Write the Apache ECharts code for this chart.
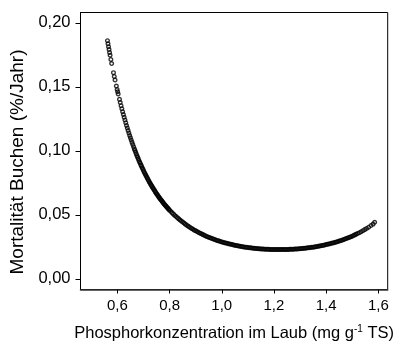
<!DOCTYPE html>
<html>
<head>
<meta charset="utf-8">
<script src="https://cdn.jsdelivr.net/npm/echarts@6/dist/echarts.min.js"></script>
<style>
html, body { margin: 0; padding: 0; background: #fff; }
#main { width: 397px; height: 347px; }
</style>
</head>
<body>
<div id="main"></div>
<script>
// Phosphorkonzentration im Laub (mg g-1 TS)
var phosphor = [
  0.562, 0.564, 0.566, 0.568, 0.570, 0.572, 0.575, 0.578,
  0.585, 0.588, 0.591, 0.596, 0.599, 0.601, 0.603,
  0.608, 0.611, 0.614, 0.617, 0.620, 0.623, 0.626, 0.629, 0.632, 0.635,
  0.638, 0.641, 0.644, 0.647, 0.650, 0.653, 0.656, 0.659, 0.662, 0.665,
  0.670, 0.675, 0.680, 0.685, 0.690, 0.695, 0.700, 0.705, 0.710, 0.715,
  0.720, 0.725, 0.730, 0.735, 0.740, 0.745, 0.750, 0.755, 0.760, 0.765,
  0.770, 0.775, 0.780, 0.785, 0.790, 0.795, 0.800, 0.805, 0.810, 0.815,
  0.820, 0.825, 0.830, 0.835, 0.840, 0.845, 0.850, 0.855, 0.860, 0.865,
  0.870, 0.875, 0.880, 0.885, 0.890, 0.895, 0.900, 0.905, 0.910, 0.915,
  0.920, 0.925, 0.930, 0.935, 0.940, 0.945, 0.950, 0.955, 0.960, 0.965,
  0.970, 0.975, 0.980, 0.985, 0.990, 0.995, 1.000, 1.005, 1.010, 1.015,
  1.020, 1.025, 1.030, 1.035, 1.040, 1.045, 1.050, 1.055, 1.060, 1.065,
  1.070, 1.075, 1.080, 1.085, 1.090, 1.095, 1.100, 1.105, 1.110, 1.115,
  1.120, 1.125, 1.130, 1.135, 1.140, 1.145, 1.150, 1.155, 1.160, 1.165,
  1.170, 1.175, 1.180, 1.185, 1.190, 1.195, 1.200, 1.205, 1.210, 1.215,
  1.220, 1.225, 1.230, 1.235, 1.240, 1.245, 1.250, 1.255, 1.260, 1.265,
  1.270, 1.275, 1.280, 1.285, 1.290, 1.295, 1.300, 1.305, 1.310, 1.315,
  1.320, 1.325, 1.330, 1.335, 1.340, 1.345, 1.350, 1.355, 1.360, 1.365,
  1.370, 1.375, 1.380, 1.385, 1.390, 1.395, 1.400, 1.405, 1.410, 1.415,
  1.420, 1.425, 1.430, 1.435, 1.440, 1.445, 1.450, 1.455, 1.460, 1.465,
  1.470, 1.475, 1.480, 1.485, 1.490, 1.495, 1.500, 1.505, 1.510, 1.515,
  1.520, 1.527, 1.534, 1.541, 1.548, 1.555, 1.563, 1.572, 1.580, 1.586,
  // dichter Bereich am steilen Ast
  0.6675, 0.6725, 0.6775, 0.6825, 0.6875, 0.6925, 0.6975, 0.7025, 0.7075,
  0.7125, 0.7175, 0.7225, 0.7275, 0.7325, 0.7375, 0.7425, 0.7475, 0.7525,
  0.7575, 0.7625, 0.7675, 0.7725, 0.7775, 0.7825, 0.7875, 0.7925, 0.7975
];
// Mortalität Buchen (%/Jahr)
var mortalitaet = [
  0.1861, 0.1837, 0.1814, 0.1791, 0.1769, 0.1747, 0.1714, 0.1682,
  0.1611, 0.1581, 0.1553, 0.1506, 0.1479, 0.1462, 0.1444,
  0.1402, 0.1377, 0.1353, 0.1329, 0.1306, 0.1284, 0.1262, 0.1240, 0.1219, 0.1198,
  0.1178, 0.1158, 0.1139, 0.1120, 0.1102, 0.1084, 0.1066, 0.1049, 0.1032, 0.1015,
  0.0988, 0.0962, 0.0938, 0.0913, 0.0890, 0.0868, 0.0846, 0.0825, 0.0805, 0.0785,
  0.0766, 0.0748, 0.0730, 0.0713, 0.0697, 0.0681, 0.0665, 0.0650, 0.0636, 0.0622,
  0.0609, 0.0596, 0.0583, 0.0571, 0.0559, 0.0547, 0.0536, 0.0525, 0.0515, 0.0505,
  0.0495, 0.0486, 0.0477, 0.0468, 0.0459, 0.0451, 0.0443, 0.0435, 0.0427, 0.0420,
  0.0413, 0.0406, 0.0399, 0.0393, 0.0387, 0.0380, 0.0375, 0.0369, 0.0363, 0.0358,
  0.0353, 0.0348, 0.0343, 0.0338, 0.0333, 0.0329, 0.0325, 0.0320, 0.0316, 0.0312,
  0.0309, 0.0305, 0.0301, 0.0298, 0.0295, 0.0291, 0.0288, 0.0285, 0.0282, 0.0279,
  0.0277, 0.0274, 0.0272, 0.0269, 0.0267, 0.0264, 0.0262, 0.0260, 0.0258, 0.0256,
  0.0254, 0.0252, 0.0251, 0.0249, 0.0247, 0.0246, 0.0244, 0.0243, 0.0242, 0.0240,
  0.0239, 0.0238, 0.0237, 0.0236, 0.0235, 0.0234, 0.0233, 0.0233, 0.0232, 0.0231,
  0.0231, 0.0230, 0.0230, 0.0229, 0.0229, 0.0229, 0.0228, 0.0228, 0.0228, 0.0228,
  0.0228, 0.0228, 0.0228, 0.0228, 0.0228, 0.0229, 0.0229, 0.0229, 0.0230, 0.0230,
  0.0231, 0.0231, 0.0232, 0.0233, 0.0233, 0.0234, 0.0235, 0.0236, 0.0237, 0.0238,
  0.0239, 0.0240, 0.0242, 0.0243, 0.0244, 0.0246, 0.0247, 0.0249, 0.0251, 0.0252,
  0.0254, 0.0256, 0.0258, 0.0260, 0.0262, 0.0264, 0.0267, 0.0269, 0.0272, 0.0274,
  0.0277, 0.0279, 0.0282, 0.0285, 0.0288, 0.0291, 0.0295, 0.0298, 0.0301, 0.0305,
  0.0309, 0.0312, 0.0316, 0.0320, 0.0325, 0.0329, 0.0333, 0.0338, 0.0343, 0.0348,
  0.0353, 0.0360, 0.0368, 0.0376, 0.0384, 0.0393, 0.0403, 0.0416, 0.0427, 0.0441,
  // dichter Bereich am steilen Ast
  0.1002, 0.0975, 0.0950, 0.0925, 0.0902, 0.0879, 0.0857, 0.0835, 0.0815,
  0.0795, 0.0776, 0.0757, 0.0739, 0.0722, 0.0705, 0.0689, 0.0673, 0.0658,
  0.0643, 0.0629, 0.0615, 0.0602, 0.0589, 0.0577, 0.0565, 0.0553, 0.0542
];
var xTicks = [0.6, 0.8, 1.0, 1.2, 1.4, 1.6];
var yTicks = [0.00, 0.05, 0.10, 0.15, 0.20];

var points = phosphor.map(function (p, i) { return [p, mortalitaet[i]]; });
var font = 'Liberation Sans, Arial, Helvetica, sans-serif';

var myChart = echarts.init(document.getElementById('main'));
myChart.setOption({
  animation: false,
  grid: {
    left: 80.5, top: 12.5, right: 3, bottom: 51,
    show: true, borderColor: '#000', borderWidth: 1
  },
  xAxis: {
    type: 'value',
    min: 0.4586, max: 1.636,
    name: 'Phosphorkonzentration im Laub (mg g{sup|-1} TS)',
    nameLocation: 'middle',
    nameGap: 35,
    nameTextStyle: {
      fontFamily: font, fontSize: 16.5, color: '#000',
      rich: { sup: { fontFamily: font, fontSize: 10, color: '#000', padding: [0, 0, 8, 0] } }
    },
    axisLine: { show: true, onZero: false, lineStyle: { color: '#333', width: 1.5 } },
    axisTick: { show: true, length: 4, customValues: xTicks, lineStyle: { color: '#000' } },
    axisLabel: {
      customValues: xTicks, margin: 9,
      fontFamily: font, fontSize: 15, color: '#000',
      formatter: function (v) { return v.toFixed(1).replace('.', ','); }
    },
    splitLine: { show: false }
  },
  yAxis: {
    type: 'value',
    min: -0.0084, max: 0.2081,
    name: 'Mortalität Buchen (%/Jahr)',
    nameLocation: 'middle',
    nameGap: 52,
    nameTextStyle: { fontFamily: font, fontSize: 19, color: '#000', padding: [0, 22, 0, 0] },
    axisLine: { show: true, onZero: false, lineStyle: { color: '#000', width: 1 } },
    axisTick: { show: true, length: 5, customValues: yTicks, lineStyle: { color: '#000' } },
    axisLabel: {
      customValues: yTicks, margin: 10,
      fontFamily: font, fontSize: 16.5, color: '#000',
      formatter: function (v) { return v.toFixed(2).replace('.', ','); }
    },
    splitLine: { show: false }
  },
  series: [
    {
      type: 'scatter',
      data: points,
      symbol: 'circle',
      symbolSize: 3.6,
      itemStyle: { color: 'rgba(0,0,0,0)', borderColor: '#000', borderWidth: 1.4 }
    }
  ]
});
</script>
</body>
</html>
